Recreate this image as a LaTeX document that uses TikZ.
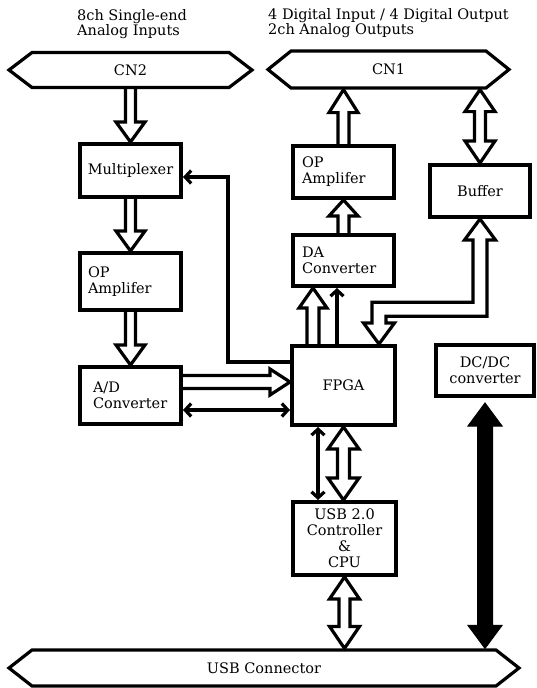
\documentclass[tikz,border=0pt]{standalone}
\usepackage{fontspec}
\setmainfont{DejaVu Serif}
\usetikzlibrary{calc,arrows.meta}
\pgfdeclarelayer{bg}
\pgfsetlayers{bg,main}

\tikzset{
  box/.style={draw, fill=white, line width=4pt, inner sep=0pt, align=center,
              font=\fontsize{14.5}{16}\selectfont},
  lbl/.style={inner sep=0pt, font=\fontsize{14.5}{16}\selectfont},
  hexline/.style={draw, fill=white, line width=3.2pt, line join=miter},
  blk/.style={draw, fill=white, line width=3.2pt, line join=miter},
  blkfill/.style={draw, fill=black, line width=1pt, line join=miter},
  sig/.style={line width=3.2pt, line join=miter, -{Straight Barb[length=6pt,width=13pt]}},
  sigboth/.style={line width=3.2pt, {Straight Barb[length=6pt,width=13pt]}-{Straight Barb[length=6pt,width=13pt]}},
}

% single block arrow: from, to (head), shaft half width, head half width, head length
\newcommand\BArrow[5]{%
  \coordinate (bh) at ($(#2)!#5pt!(#1)$);
  \draw[blk] ($(#1)!#3pt!90:(#2)$) -- ($(bh)!#3pt!-90:(#1)$) -- ($(bh)!#4pt!-90:(#1)$)
    -- (#2) -- ($(bh)!#4pt!90:(#1)$) -- ($(bh)!#3pt!90:(#1)$) -- ($(#1)!#3pt!-90:(#2)$) -- cycle;}
% double block arrow: [style] from, to, shaft half width, head half width, head length
\newcommand\DArrow[6][blk]{%
  \coordinate (dha) at ($(#2)!#6pt!(#3)$);
  \coordinate (dhb) at ($(#3)!#6pt!(#2)$);
  \draw[#1] (#2) -- ($(dha)!#5pt!90:(#3)$) -- ($(dha)!#4pt!90:(#3)$) -- ($(dhb)!#4pt!-90:(#2)$)
    -- ($(dhb)!#5pt!-90:(#2)$) -- (#3) -- ($(dhb)!#5pt!90:(#2)$) -- ($(dhb)!#4pt!90:(#2)$)
    -- ($(dha)!#4pt!-90:(#3)$) -- ($(dha)!#5pt!-90:(#3)$) -- cycle;}
% hexagon connector: name, cx, cy, half flat width, half height, text
\newcommand\HexConn[6]{%
  \draw[hexline] (#2-#4-23,#3) -- (#2-#4,#3-#5) -- (#2+#4,#3-#5) -- (#2+#4+23,#3)
    -- (#2+#4,#3+#5) -- (#2-#4,#3+#5) -- cycle;
  \node[lbl] (#1) at (#2,#3) {#6};
  \coordinate (#1-top) at (#2,#3-#5-1.6);
  \coordinate (#1-bot) at (#2,#3+#5+1.6);}

\begin{document}
\begin{tikzpicture}[x=1pt,y=-1pt]
\useasboundingbox (0,0) rectangle (536,688);

% headers
\node[lbl, anchor=west, align=left, font=\fontsize{14.5}{15}\selectfont] (h1) at (77,24.5)
  {8ch Single-end\\Analog Inputs};
\node[lbl, anchor=west, align=left, font=\fontsize{14.5}{15}\selectfont] (h2) at (268,23.5)
  {4 Digital Input / 4 Digital Output\\2ch Analog Outputs};

% connectors
\HexConn{cn2}{130.5}{70}{98.5}{17.5}{CN2}
\HexConn{cn1}{388.5}{69.5}{97.5}{18.5}{CN1}
\HexConn{usb}{264}{668}{232}{18}{USB Connector}

% blocks
\node[box, minimum width=101pt, minimum height=53pt] (mux) at (130.5,170.5) {Multiplexer};
\node[box, minimum width=101pt, minimum height=57pt, text width=85pt, align=left] (opl) at (130.5,281.5) {OP\\Amplifer};
\node[box, minimum width=101pt, minimum height=57pt, text width=75pt, align=left] (adc) at (130.5,395.5) {A/D\\Converter};
\node[box, minimum width=103pt, minimum height=79pt] (fpga) at (343.5,385.5) {FPGA};
\node[box, minimum width=101pt, minimum height=51pt, text width=83pt, align=left] (dac) at (343.5,260.5) {DA\\Converter};
\node[box, minimum width=101pt, minimum height=52pt, text width=83pt, align=left] (opr) at (343.5,172) {OP\\Amplifer};
\node[box, minimum width=100pt, minimum height=52pt] (buf) at (480,191) {Buffer};
\node[box, minimum width=98pt, minimum height=51pt] (dcdc) at (485,370.5) {DC/DC\\converter};
\node[box, minimum width=103pt, minimum height=73pt] (usbc) at (344.5,538.5) {USB 2.0\\Controller\\\&\\CPU};

\begin{pgfonlayer}{bg}
  % left column
  \coordinate (s1) at ($(cn2-bot)+(0,-6)$);
  \BArrow{s1}{mux.north}{5}{14.5}{20}
  \coordinate (s2) at ($(mux.south)+(0,-6)$);
  \BArrow{s2}{opl.north}{5}{14.5}{20}
  \coordinate (s3) at ($(opl.south)+(0,-6)$);
  \BArrow{s3}{adc.north}{5}{14.5}{20}
  % A/D -> FPGA
  \coordinate (s4) at ($(adc.east)+(-6,-13.5)$);
  \coordinate (e4) at (s4 -| fpga.west);
  \BArrow{s4}{e4}{6.5}{13}{20}
  \coordinate (s5) at ($(adc.east)+(0,14.5)$);
  \coordinate (e5) at (s5 -| fpga.west);
  \draw[sigboth] (s5) -- (e5);
  % FPGA -> Multiplexer
  \coordinate (m1) at ($(fpga.west)+(0,-23.5)$);
  \coordinate (m2) at ($(mux.east)+(45,6.5)$);
  \draw[sig] (m1) -- (m1 -| m2) -- (m2) -- (m2 -| mux.east);
  % FPGA -> DA
  \coordinate (s7) at ($(fpga.north west)+(23,6)$);
  \coordinate (e7) at (s7 |- dac.south);
  \BArrow{s7}{e7}{6}{14}{20}
  \coordinate (s8) at ($(fpga.north west)+(47,0)$);
  \coordinate (e8) at (s8 |- dac.south);
  \draw[sig] (s8) -- (e8);
  % DA -> OP -> CN1
  \coordinate (s9) at ($(dac.north)+(0,6)$);
  \BArrow{s9}{opr.south}{5.5}{14.5}{16}
  \coordinate (s10) at ($(opr.north)+(0,6)$);
  \coordinate (e10) at (s10 |- cn1-bot);
  \BArrow{s10}{e10}{5.5}{14.5}{23}
  % CN1 <-> Buffer
  \coordinate (s11) at (buf.north |- cn1-bot);
  \DArrow{s11}{buf.north}{5.5}{15}{22}
  % FPGA <-> Buffer (bent)
  \coordinate (bf) at ($(fpga.north east)+(-18,0)$);
  \coordinate (bb) at (buf.south);
  \coordinate (be) at ($(bf)+(0,-34.75)$);
  \draw[blk] (bf) -- ($(bf)+(15.5,-21)$) -- ($(bf)+(7,-21)$) -- ($(bf|-be)+(7,7)$)
    -- ($(bb|-be)+(7,7)$) -- ($(bb)+(7,21)$) -- ($(bb)+(15.5,21)$) -- (bb)
    -- ($(bb)+(-15.5,21)$) -- ($(bb)+(-7,21)$) -- ($(bb|-be)+(-7,-7)$)
    -- ($(bf|-be)+(-7,-7)$) -- ($(bf)+(-7,-21)$) -- ($(bf)+(-15.5,-21)$) -- cycle;
  % FPGA <-> USB controller
  \coordinate (s13) at (fpga.south);
  \coordinate (e13) at (s13 |- usbc.north);
  \DArrow{s13}{e13}{6}{15.5}{22}
  \coordinate (s14) at ($(fpga.south west)+(28,0)$);
  \coordinate (e14) at (s14 |- usbc.north);
  \draw[sigboth] (s14) -- (e14);
  % USB controller <-> USB connector
  \coordinate (s15) at (usbc.south);
  \coordinate (e15) at (s15 |- usb-top);
  \DArrow{s15}{e15}{5.5}{15}{22}
  % DC/DC <-> USB connector (power)
  \coordinate (s16) at ($(dcdc.south)+(0,5)$);
  \coordinate (e16) at (s16 |- usb-top);
  \DArrow[blkfill]{s16}{e16}{7.5}{17}{23}
\end{pgfonlayer}
\end{tikzpicture}
\end{document}
